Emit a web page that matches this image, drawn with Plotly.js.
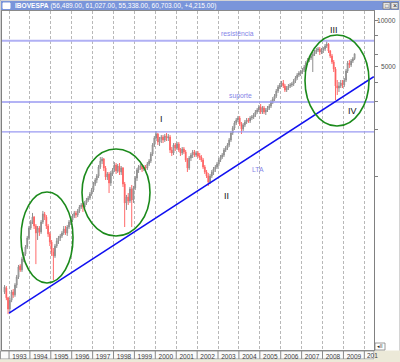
<!DOCTYPE html>
<html><head><meta charset="utf-8">
<script src="https://cdn.plot.ly/plotly-3.0.1.min.js"></script>
<style>html,body{margin:0;padding:0;background:#fff;}#chart{width:400px;height:362px;}</style>
</head><body><div id="chart"></div>
<script>
// Monthly IBOVESPA candles, first candle Oct 1992 (positions)
const firstYear = 1992, firstMonthIndex = 9; // October

const openVals = [
  1806, 1913, 1655,
  1404, 1600, 1806, 1730, 2000, 2252, 2651, 2500, 2941, 3163, 3505, 4008,
  4640, 5068, 5456, 4779, 4314, 4640, 4379, 5068, 5712, 5456, 4779, 4251,
  3777, 3257, 3074, 3557, 3833, 4008, 4129, 4314, 4572, 4314, 4709, 5068,
  5220, 5538, 5797, 5620, 5971, 6330, 6520, 6330, 6716, 7020, 7232, 7664,
  8130, 8889, 9430, 10000, 11420, 12480, 12850, 11250, 9853, 10300, 9021, 10460,
  10930, 11760, 10770, 11590, 10610, 11250, 8889, 6716, 7340, 6917, 8258, 7020,
  8380, 9709, 10930, 11420, 11590, 11090, 11420, 11250, 11940, 12480, 13840, 15800,
  17530, 18590, 16520, 17270, 17790, 17010, 18050, 17530, 17790, 14680, 14040, 15800,
  15120, 16040, 14680, 14040, 14900, 14250, 12660, 11250, 13040, 13630, 14250, 13630,
  14040, 13430, 13240, 12660, 11420, 10610, 10000, 9155, 10000, 10610, 11090, 11420,
  11940, 12660, 13240, 13630, 14680, 15120, 15800, 17010, 18870, 20310, 21870, 22860,
  23540, 21550, 20010, 21230, 22190, 22860, 22520, 23540, 23890, 24600, 25720, 26490,
  27690, 25720, 27280, 25720, 26490, 27280, 28100, 29810, 31160, 32570, 35060, 37190,
  38310, 39460, 37750, 35580, 36650, 37750, 38310, 38880, 40640, 42480, 44400, 45730,
  46410, 47800, 49960, 53000, 55400, 57070, 58780, 60550, 62360, 64230, 65180, 62360,
  64230, 65180, 68130, 70160, 63290, 58780, 53790, 48510, 37750, 36650, 37750, 39460,
  38310, 41240, 47100, 53000, 51460, 54590, 56489
];
const highVals = [
  2000, 1971, 1680,
  1655, 1860, 1885, 2057, 2320, 2690, 2724, 3029, 3257, 3610, 4129, 4779,
  5220, 5797, 5538, 4921, 4779, 4779, 5220, 5971, 5883, 5620, 4921, 4379,
  3890, 3454, 3667, 4008, 4129, 4251, 4444, 4779, 4779, 4850, 5220, 5376,
  5712, 5971, 5971, 6146, 6520, 6716, 6716, 6917, 7232, 7449, 7894, 8380,
  9155, 9709, 10300, 11760, 13240, 13240, 13040, 11590, 10610, 10610, 10770, 11250,
  12290, 12110, 11940, 12110, 11590, 11420, 9155, 7560, 7778, 8505, 8760, 8632,
  10000, 11250, 11760, 11940, 11940, 11760, 11760, 12290, 12850, 14250, 16270, 18050,
  19430, 18870, 17790, 18320, 18320, 18590, 18870, 18590, 18320, 15340, 16270, 16270,
  16520, 16520, 15120, 15340, 15340, 14680, 13040, 13430, 14040, 14680, 14680, 14460,
  14460, 14040, 13630, 13040, 11760, 10930, 10460, 10300, 10930, 11420, 11760, 12290,
  13040, 13630, 14040, 15120, 15570, 16270, 17530, 19430, 20920, 22520, 23540, 24240,
  24240, 22190, 21870, 22860, 23540, 23540, 24240, 24600, 25340, 26490, 27280, 28520,
  28940, 28100, 28100, 27280, 28100, 28940, 30700, 32090, 33540, 36110, 38310, 39460,
  40640, 41240, 38880, 37750, 38880, 39460, 40040, 41860, 43750, 45730, 47100, 47800,
  49230, 51460, 54590, 57070, 58780, 60550, 62360, 64230, 66140, 67130, 67130, 66140,
  67130, 70160, 73340, 71200, 64230, 60550, 55400, 49960, 41240, 40040, 41240, 41240,
  42480, 48510, 54590, 55400, 56230, 57910, 61027
];
const lowVals = [
  1753, 1600, 1301,
  1320, 1553, 1655, 1680, 1913, 2187, 2427, 2427, 2806, 3074, 3403, 3890,
  4510, 4921, 4572, 2724, 3890, 4129, 4251, 4921, 5220, 4572, 4068, 3557,
  3074, 2150, 2985, 3454, 3667, 3833, 4008, 4190, 4190, 4129, 4572, 4850,
  5068, 5376, 5376, 5456, 5797, 6146, 5883, 6146, 6520, 6816, 7020, 7449,
  7894, 8632, 9021, 9709, 11090, 11940, 10770, 9430, 9430, 7778, 8632, 10000,
  10610, 10300, 10460, 10150, 10150, 8505, 4709, 6060, 6520, 6716, 4709, 6716,
  8130, 9292, 10460, 10930, 10610, 10770, 10770, 10930, 11590, 12110, 13430, 15340,
  16760, 15800, 15570, 16270, 16270, 16520, 16760, 16760, 14040, 13430, 13630, 14460,
  14680, 14250, 13430, 13630, 13840, 12290, 10610, 10930, 12480, 13040, 13240, 13240,
  13040, 12660, 12290, 11090, 10300, 9709, 8632, 8889, 9709, 10150, 10610, 11090,
  11590, 12290, 12850, 13240, 14250, 14680, 15340, 16520, 18320, 19720, 21230, 22190,
  20920, 18590, 19430, 20610, 21550, 21870, 21870, 22860, 23190, 23890, 24970, 25720,
  24970, 24970, 24970, 24600, 25720, 26490, 27280, 28940, 30250, 31620, 34040, 36110,
  37190, 36650, 34550, 34550, 35580, 36650, 37190, 37750, 39460, 41240, 43110, 43750,
  45060, 46410, 48510, 51460, 53790, 55400, 46410, 58780, 60550, 62360, 59650, 60550,
  61450, 63290, 66140, 61450, 57070, 52230, 46410, 30700, 33050, 34550, 36650, 36650,
  37190, 40040, 45730, 49230, 49960, 53000, 55338
];
const closeVals = [
  1942, 1655, 1404,
  1600, 1806, 1730, 2000, 2252, 2612, 2500, 2941, 3163, 3505, 4008, 4640,
  5068, 5456, 4779, 4314, 4640, 4379, 5068, 5712, 5456, 4779, 4251, 3777,
  3257, 3074, 3557, 3833, 4008, 4129, 4314, 4572, 4314, 4709, 5068, 5220,
  5538, 5797, 5620, 5971, 6330, 6520, 6330, 6716, 7020, 7232, 7664, 8130,
  8889, 9430, 10000, 11420, 12480, 12850, 11250, 9853, 10300, 9021, 10460, 10930,
  11760, 10770, 11590, 10610, 11250, 8889, 6716, 7340, 6917, 8258, 7020, 8380,
  9709, 10930, 11420, 11590, 11090, 11420, 11250, 11940, 12480, 13840, 15800, 17530,
  18590, 16520, 17270, 17790, 17010, 18050, 17530, 17790, 14680, 14040, 15800, 15120,
  16040, 14680, 14040, 14900, 14250, 12660, 11250, 13040, 13630, 14250, 13630, 14040,
  13430, 13240, 12660, 11420, 10610, 10000, 9155, 10000, 10610, 11090, 11420, 11940,
  12660, 13240, 13630, 14680, 15120, 15800, 17010, 18870, 20310, 21870, 22860, 23540,
  21550, 20010, 21230, 22190, 22860, 22520, 23540, 23890, 24600, 25720, 26490, 27690,
  25720, 27280, 25720, 26490, 27280, 28100, 29810, 31160, 32570, 35060, 37190, 38310,
  39460, 37750, 35580, 36650, 37750, 38310, 38880, 40640, 42480, 44400, 45730, 46410,
  47800, 49960, 53000, 55400, 57070, 58780, 60550, 62360, 64230, 65180, 62360, 64230,
  65180, 68130, 70160, 63290, 58780, 53790, 48510, 37750, 36650, 37750, 39460, 38310,
  41240, 47100, 53000, 51460, 54590, 56489, 60703
];

const yearLabels = ['1993','1994','1995','1996','1997','1998','1999','2000','2001',
                    '2002','2003','2004','2005','2006','2007','2008','2009','2010'];
const levelResistencia = 73500;
const levelSuporte = 29800;
const levelBase = 19200;
const ltaDates = ['1993-01-01', '2010-06-15'];
const ltaValues = [1320, 43300];
const yTickValues = [100000, 80000, 60000, 50000, 40000, 30000, 20000, 10000];
const yTickText  = ['10000', '', '', '5000', '', '', '', ''];
const headerName = 'IBOVESPA';
const headerValues = '(56,489.00, 61,027.00, 55,338.00, 60,703.00, +4,215.00)';

// month dates for the candles
const dates = openVals.map((_, i) => {
  const m = firstMonthIndex + i;
  const y = firstYear + Math.floor(m / 12);
  const mm = String(m % 12 + 1).padStart(2, '0');
  return `${y}-${mm}-15`;
});

const xRange = ['1992-08-31', '2010-06-19'];

// pixel -> paper helpers (plot area: x 2..374, y 11..350)
const PL = 2, PW = 372, PB = 350, PH = 339;
const px = X => (X - PL) / PW;
const py = Y => (PB - Y) / PH;

const traces = [
  {type:'scatter', mode:'lines', x:xRange, y:[levelResistencia, levelResistencia],
   line:{color:'#b0b0f4', width:2}, hoverinfo:'skip'},
  {type:'scatter', mode:'lines', x:xRange, y:[levelSuporte, levelSuporte],
   line:{color:'#9a9af2', width:1.3}, hoverinfo:'skip'},
  {type:'scatter', mode:'lines', x:xRange, y:[levelBase, levelBase],
   line:{color:'#9a9af2', width:1.3}, hoverinfo:'skip'},
  {type:'scatter', mode:'lines', x:ltaDates, y:ltaValues,
   line:{color:'#1010f0', width:1.5}, hoverinfo:'skip'},
  {type:'candlestick', x:dates, open:openVals, high:highVals, low:lowVals, close:closeVals,
   increasing:{line:{color:'#8e8e8e', width:1}, fillcolor:'#d8d8d8'},
   decreasing:{line:{color:'#ff6a6a', width:1}, fillcolor:'#ff0000'},
   whiskerwidth:0, hoverinfo:'skip'}
];

const shapes = [
  // outer window frame
  {type:'rect', xref:'paper', yref:'paper', x0:px(0), x1:px(400), y0:py(362), y1:py(0),
   line:{color:'#a8a8a8', width:1}, fillcolor:'rgba(0,0,0,0)', layer:'below'},
  // title bar
  {type:'rect', xref:'paper', yref:'paper', x0:px(1), x1:px(399), y0:py(10), y1:py(1),
   line:{width:0}, fillcolor:'#7a95da'},
  {type:'rect', xref:'paper', yref:'paper', x0:px(3), x1:px(10), y0:py(8.5), y1:py(3),
   line:{color:'#ffffff', width:1}, fillcolor:'#ffffff'},
  {type:'rect', xref:'paper', yref:'paper', x0:px(383), x1:px(390), y0:py(9), y1:py(2.5),
   line:{color:'#7a7a7a', width:0.8}, fillcolor:'#e6e6e6'},
  {type:'rect', xref:'paper', yref:'paper', x0:px(391), x1:px(398), y0:py(9), y1:py(2.5),
   line:{color:'#7a7a7a', width:0.8}, fillcolor:'#e6e6e6'},
  // x label strip (below the tick labels)
  {type:'rect', xref:'paper', yref:'paper', x0:px(0.5), x1:px(374), y0:py(359), y1:py(351),
   line:{color:'#9a9a9a', width:1}, fillcolor:'#fbfbfb', layer:'below'},
  {type:'rect', xref:'paper', yref:'paper', x0:px(0), x1:px(400), y0:py(362), y1:py(359.5),
   line:{width:0}, fillcolor:'#ece9d8', layer:'below'},
  {type:'rect', xref:'paper', yref:'paper', x0:px(374.5), x1:px(400), y0:py(362), y1:py(350.5),
   line:{width:0}, fillcolor:'#ece9d8', layer:'below'},
  // small scroll button
  {type:'rect', xref:'paper', yref:'paper', x0:px(375), x1:px(385), y0:py(350), y1:py(343),
   line:{color:'#808080', width:0.8}, fillcolor:'#ffffff'},
  // green ellipses
  {type:'circle', xref:'paper', yref:'paper', x0:px(21), x1:px(73), y0:py(283), y1:py(192),
   line:{color:'#1b8a1b', width:1.6}},
  {type:'circle', xref:'paper', yref:'paper', x0:px(82), x1:px(150), y0:py(236), y1:py(149),
   line:{color:'#1b8a1b', width:1.6}},
  {type:'circle', xref:'paper', yref:'paper', x0:px(305), x1:px(369), y0:py(126), y1:py(35),
   line:{color:'#1b8a1b', width:1.6}}
];
yearLabels.forEach(yr => {
  shapes.push({type:'line', xref:'x', yref:'paper', x0:`${yr}-01-01`, x1:`${yr}-01-01`,
               y0:py(359), y1:py(351), line:{color:'#8a8a8a', width:1}});
});

const ann = (text, X, Y, opts) => Object.assign({
  text, xref:'paper', yref:'paper', x:px(X), y:py(Y), showarrow:false,
  xanchor:'center', yanchor:'middle'
}, opts || {});

const annotations = [
  ann(`<b>${headerName}</b> ${headerValues}`, 12.5, 6, {xanchor:'left',
      font:{family:'Liberation Sans, Arial, sans-serif', size:6.6, color:'#ffffff'}}),
  ann('□', 386.5, 5.8, {font:{size:6, color:'#222'}}),
  ann('×', 394.5, 5.8, {font:{size:7, color:'#222'}}),
  ann('resistência', 237.5, 33.5, {font:{size:6.8, color:'#8585e8'}}),
  ann('suporte', 240.5, 96.5, {font:{size:6.8, color:'#8585e8'}}),
  ann('LTA', 258, 169.5, {font:{size:6.8, color:'#8585e8'}}),
  ann('I', 161.5, 119, {font:{size:9, color:'#111111'}}),
  ann('II', 226, 196, {font:{size:9, color:'#111111'}}),
  ann('III', 333.5, 30, {font:{size:9, color:'#111111'}}),
  ann('IV', 352.5, 111, {font:{size:9, color:'#111111'}}),
  ann('201', 365, 355.5, {xanchor:'left', font:{size:6.5, color:'#404040'}}),
  ann('◂II', 380, 346.5, {font:{size:4.5, color:'#222'}}),
  {text:yTickText[0], xref:'paper', yref:'y', x:px(398), y:Math.log10(yTickValues[0]),
   xanchor:'right', yanchor:'middle', showarrow:false, font:{size:6.6, color:'#505050'}},
  {text:yTickText[3], xref:'paper', yref:'y', x:px(398), y:Math.log10(yTickValues[3]),
   xanchor:'right', yanchor:'middle', showarrow:false, font:{size:6.6, color:'#505050'}}
];

const layout = {
  width:400, height:362,
  margin:{l:2, r:26, t:11, b:12, pad:0},
  paper_bgcolor:'#ffffff', plot_bgcolor:'#ffffff',
  showlegend:false,
  font:{family:'Liberation Sans, Arial, sans-serif', size:7, color:'#404040'},
  xaxis:{type:'date', range:xRange, rangeslider:{visible:false},
         tick0:'1993-01-01', dtick:'M12', tickformat:'%Y', ticklabelmode:'period',
         showgrid:true, gridcolor:'#b8b8b8', griddash:'3px,2px', gridwidth:1,
         showline:true, linecolor:'#8a8a8a', mirror:true, ticks:'', zeroline:false,
         tickfont:{size:6.5, color:'#404040'}, automargin:false, fixedrange:true},
  yaxis:{type:'log', range:[2.8846, 5.0577], side:'right', showgrid:false,
         showline:true, linecolor:'#808080', mirror:true, ticks:'outside', ticklen:3,
         tickcolor:'#808080', tickvals:yTickValues, ticktext:yTickText,
         showticklabels:false, zeroline:false, automargin:false, fixedrange:true},
  shapes, annotations
};

Plotly.newPlot('chart', traces, layout, {displayModeBar:false, staticPlot:true});
</script></body></html>
